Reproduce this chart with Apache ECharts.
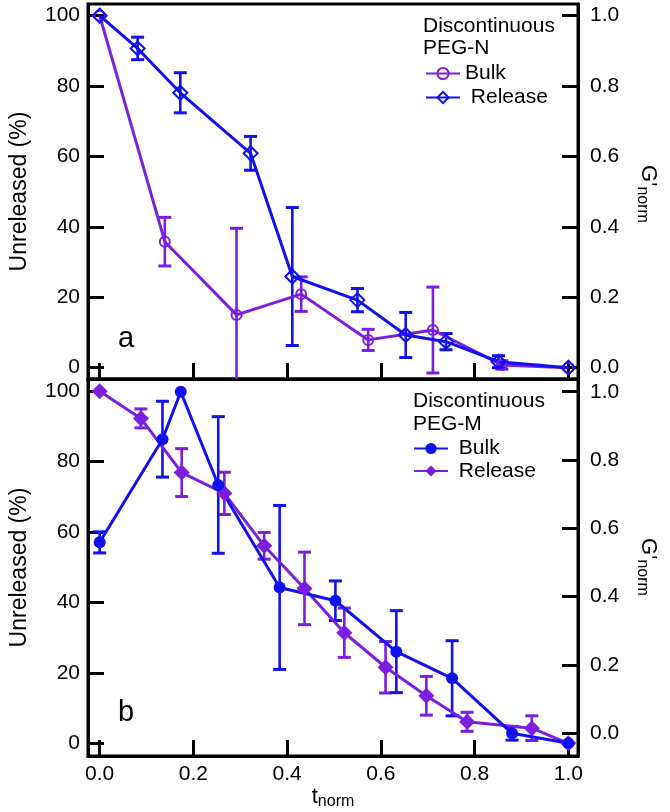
<!DOCTYPE html>
<html><head><meta charset="utf-8">
<script src="https://cdn.jsdelivr.net/npm/echarts@6/dist/echarts.min.js"></script>
<style>html,body{margin:0;padding:0;background:#fff}#c{width:670px;height:812px}</style>
</head><body><div id="c"></div>
<script>
// ---------- data ----------
const xTicks = [0, 0.2, 0.4, 0.6, 0.8, 1.0];
const leftTicks = [0, 20, 40, 60, 80, 100];
const rightTicks = [0, 0.2, 0.4, 0.6, 0.8, 1.0];

// Panel a : Discontinuous PEG-N
const aReleaseT   = [0, 0.081, 0.172, 0.322, 0.411, 0.550, 0.653, 0.739, 0.851, 1.0];
const aReleaseVal = [100, 90.7, 78.1, 60.9, 25.9, 19.2, 9.3, 7.4, 1.7, 0];
const aReleaseErr = [0, 3.2, 5.7, 4.8, 19.6, 3.3, 6.4, 2.3, 1.7, 0];
const aBulkT   = [0, 0.139, 0.292, 0.430, 0.573, 0.711, 0.858, 1.0];
const aBulkVal = [1.0, 0.358, 0.150, 0.209, 0.079, 0.107, 0.008, 0.0];
const aBulkErr = [0, 0.069, 0.246, 0.049, 0.030, 0.122, 0.012, 0];

// Panel b : Discontinuous PEG-M
const bReleaseT   = [0, 0.088, 0.175, 0.266, 0.351, 0.437, 0.522, 0.610, 0.697, 0.784, 0.922, 1.0];
const bReleaseVal = [100, 92.3, 76.9, 71.0, 56.1, 44.0, 31.4, 21.6, 13.5, 6.1, 4.3, 0];
const bReleaseErr = [0, 2.7, 6.8, 6.0, 3.8, 10.3, 7.0, 7.3, 5.5, 2.7, 3.5, 0];
const bBulkT   = [0, 0.134, 0.173, 0.253, 0.384, 0.503, 0.633, 0.752, 0.880, 1.0];
const bBulkVal = [0.559, 0.861, 1.0, 0.727, 0.427, 0.388, 0.239, 0.161, 0.0, -0.029];
const bBulkErr = [0.031, 0.111, 0, 0.20, 0.24, 0.058, 0.12, 0.11, 0.02, 0];

const legendLabels = {
  'PEG-N Bulk': 'Bulk', 'PEG-N Release': ' Release',
  'PEG-M Bulk': ' Bulk', 'PEG-M Release': ' Release'
};
const headerA = 'Discontinuous\nPEG-N';
const headerB = 'Discontinuous\nPEG-M';
const rightName = "{g|G'}{s|norm}";

// ---------- styling ----------
const FONT = '"Liberation Sans", Arial, Helvetica, sans-serif';
const BLUE = '#1010f0';
const PURPLE = '#7c1ee0';

const ext = {
  x: [-0.0249, 1.0206],
  aL: [-3.21, 103.32], aR: [-0.0321, 1.0332],
  bL: [-3.61, 103.49], bR: [-0.0665, 1.0372]
};

function pairs(t, v) { return t.map((x, i) => [x, v[i]]); }
function triples(t, v, e) { return t.map((x, i) => [x, v[i], e[i]]); }

function errRender(yExt, color) {
  return function (params, api) {
    const x = api.value(0), y = api.value(1), e = api.value(2);
    if (!e) return null;
    const hi = y + e, lo = y - e;
    const hiC = Math.min(hi, yExt[1]), loC = Math.max(lo, yExt[0]);
    const p1 = api.coord([x, hiC]), p2 = api.coord([x, loC]);
    const hw = 6.5;
    const ch = [{ type: 'line', shape: { x1: p1[0], y1: p1[1], x2: p2[0], y2: p2[1] },
      style: { stroke: color, lineWidth: 2.6 } }];
    if (hi <= yExt[1]) ch.push({ type: 'line', shape: { x1: p1[0] - hw, y1: p1[1], x2: p1[0] + hw, y2: p1[1] },
      style: { stroke: color, lineWidth: 3 } });
    if (lo >= yExt[0]) ch.push({ type: 'line', shape: { x1: p2[0] - hw, y1: p2[1], x2: p2[0] + hw, y2: p2[1] },
      style: { stroke: color, lineWidth: 3 } });
    return { type: 'group', children: ch };
  };
}

function xAxisCfg(grid, showLabels) {
  const c = {
    type: 'value', gridIndex: grid, min: ext.x[0], max: ext.x[1],
    axisLine: { show: true, onZero: false, lineStyle: { color: '#000', width: 3 } },
    axisTick: { show: true, inside: true, length: 16, lineStyle: { color: '#000', width: 3 }, customValues: xTicks },
    axisLabel: { show: showLabels, customValues: xTicks, formatter: v => v.toFixed(1),
      fontSize: 21, color: '#000', fontFamily: FONT, margin: 8 },
    splitLine: { show: false }
  };
  if (showLabels) {
    c.name = '{t|t}{s|norm}';
    c.nameLocation = 'middle';
    c.nameGap = 30;
    c.nameTextStyle = { color: '#000', fontFamily: FONT, rich: {
      t: { fontSize: 22, fontFamily: FONT, color: '#000', verticalAlign: 'top', padding: [0, 0, 2, 0] },
      s: { fontSize: 16, fontFamily: FONT, color: '#000', verticalAlign: 'bottom' } } };
  }
  return c;
}
function yLeftCfg(grid, e) {
  return {
    type: 'value', gridIndex: grid, position: 'left', min: e[0], max: e[1],
    axisLine: { show: true, onZero: false, lineStyle: { color: '#000', width: 3 } },
    axisTick: { show: true, inside: true, length: 16, lineStyle: { color: '#000', width: 3 }, customValues: leftTicks },
    axisLabel: { customValues: leftTicks, formatter: v => String(Math.round(v)),
      fontSize: 21, color: '#000', fontFamily: FONT, margin: 8 },
    splitLine: { show: false },
    name: 'Unreleased (%)', nameLocation: 'middle', nameGap: 57,
    nameTextStyle: { fontSize: 23, color: '#000', fontFamily: FONT }
  };
}
function yRightCfg(grid, e) {
  return {
    type: 'value', gridIndex: grid, position: 'right', min: e[0], max: e[1],
    axisLine: { show: true, onZero: false, lineStyle: { color: '#000', width: 3 } },
    axisTick: { show: true, inside: true, length: 16, lineStyle: { color: '#000', width: 3 }, customValues: rightTicks },
    axisLabel: { customValues: rightTicks, formatter: v => v.toFixed(1),
      fontSize: 21, color: '#000', fontFamily: FONT, margin: 12 },
    splitLine: { show: false }
  };
}

function lineSeries(name, xi, yi, data, color, symbol, size, hollow) {
  return {
    name, type: 'line', xAxisIndex: xi, yAxisIndex: yi, data,
    symbol, symbolSize: size, showSymbol: true, clip: true,
    lineStyle: { color, width: 3 },
    itemStyle: hollow ? { color: 'rgba(255,255,255,0)', borderColor: color, borderWidth: 2 }
                      : { color, borderColor: color, borderWidth: 0 },
    emphasis: { disabled: true }, z: 3
  };
}
function errSeries(xi, yi, data, yExt, color) {
  return { type: 'custom', xAxisIndex: xi, yAxisIndex: yi, data,
    encode: { x: 0, y: 1 }, renderItem: errRender(yExt, color), silent: true, z: 2 };
}

const gridStyle = { show: true, borderColor: '#000', borderWidth: 3, backgroundColor: 'rgba(0,0,0,0)' };

function rotatedName(cx, cy) {
  return {
    type: 'text', x: cx, y: cy, rotation: -Math.PI / 2, silent: true,
    style: {
      text: rightName, align: 'center', verticalAlign: 'middle', fill: '#000',
      font: '22px ' + FONT,
      rich: {
        g: { fontSize: 22, fontFamily: FONT, fill: '#000', verticalAlign: 'top', padding: [0, 0, 3, 0] },
        s: { fontSize: 16, fontFamily: FONT, fill: '#000', verticalAlign: 'bottom' }
      }
    }
  };
}

const option = {
  animation: false,
  backgroundColor: '#fff',
  textStyle: { fontFamily: FONT },
  grid: [
    Object.assign({ left: 86, top: 4, width: 492, height: 375 }, gridStyle),
    Object.assign({ left: 86, top: 379, width: 492, height: 377 }, gridStyle)
  ],
  xAxis: [xAxisCfg(0, false), xAxisCfg(1, true)],
  yAxis: [yLeftCfg(0, ext.aL), yRightCfg(0, ext.aR), yLeftCfg(1, ext.bL), yRightCfg(1, ext.bR)],
  title: [
    { text: headerA, left: 423, top: 15, padding: 0,
      textStyle: { fontSize: 21, fontWeight: 'normal', lineHeight: 22, color: '#000', fontFamily: FONT } },
    { text: headerB, left: 413, top: 390, padding: 0,
      textStyle: { fontSize: 21, fontWeight: 'normal', lineHeight: 23, color: '#000', fontFamily: FONT } }
  ],
  legend: [
    { data: ['PEG-N Bulk', 'PEG-N Release'], orient: 'vertical', left: 425, top: 63, padding: 0,
      itemWidth: 34, itemHeight: 14, itemGap: 3, selectedMode: false,
      formatter: n => legendLabels[n],
      textStyle: { fontSize: 21, color: '#000', fontFamily: FONT } },
    { data: ['PEG-M Bulk', 'PEG-M Release'], orient: 'vertical', left: 413, top: 438, padding: 0,
      itemWidth: 34, itemHeight: 14, itemGap: 1.5, selectedMode: false,
      formatter: n => legendLabels[n],
      textStyle: { fontSize: 21, color: '#000', fontFamily: FONT } }
  ],
  graphic: [
    { type: 'text', left: 118, top: 324, style: { text: 'a', font: '29px ' + FONT, fill: '#000' } },
    { type: 'text', left: 118, top: 698, style: { text: 'b', font: '29px ' + FONT, fill: '#000' } },
    rotatedName(647, 194),
    rotatedName(647, 567)
  ],
  series: [
    errSeries(0, 1, triples(aBulkT, aBulkVal, aBulkErr), ext.aR, PURPLE),
    errSeries(0, 0, triples(aReleaseT, aReleaseVal, aReleaseErr), ext.aL, BLUE),
    lineSeries('PEG-N Bulk', 0, 1, pairs(aBulkT, aBulkVal), PURPLE, 'circle', 10, true),
    lineSeries('PEG-N Release', 0, 0, pairs(aReleaseT, aReleaseVal), BLUE, 'diamond', [14, 14], true),
    errSeries(1, 2, triples(bReleaseT, bReleaseVal, bReleaseErr), ext.bL, PURPLE),
    errSeries(1, 3, triples(bBulkT, bBulkVal, bBulkErr), ext.bR, BLUE),
    lineSeries('PEG-M Release', 1, 2, pairs(bReleaseT, bReleaseVal), PURPLE, 'diamond', [16, 16], false),
    lineSeries('PEG-M Bulk', 1, 3, pairs(bBulkT, bBulkVal), BLUE, 'circle', 12, false)
  ]
};

const chart = echarts.init(document.getElementById('c'), null, { renderer: 'canvas' });
chart.setOption(option);
</script>
</body></html>
